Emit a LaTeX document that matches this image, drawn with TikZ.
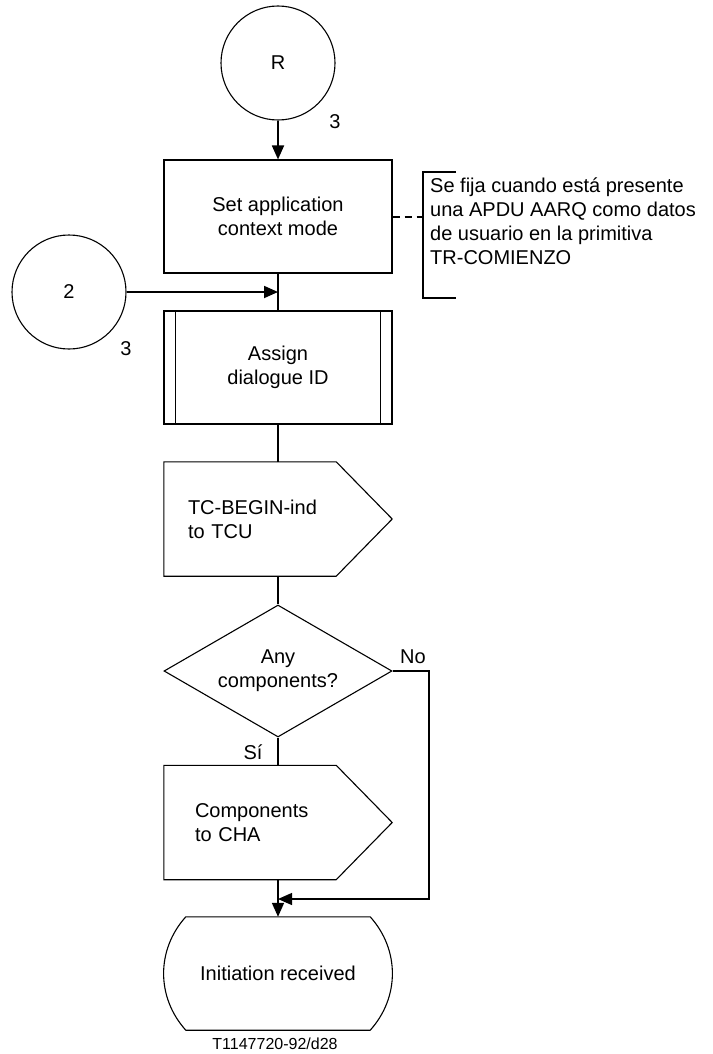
\documentclass[tikz,border=0pt]{standalone}
\usepackage{fontspec}
\setmainfont{Liberation Sans}
\usepackage{tikz}
\usetikzlibrary{calc,arrows.meta,shapes.geometric}
\tikzset{
  shp/.style={draw=black, line width=1.1pt},
  flow/.style={draw=black, line width=1.8pt},
  thinflow/.style={draw=black, line width=1.3pt},
  arr/.style={-{Triangle[length=14pt,width=12pt]}},
  brk/.style={draw=black, line width=2pt},
  txt/.style={font=\fontsize{20}{24}\selectfont},
  conn/.style={shp, txt, circle, minimum size=114pt, inner sep=0pt},
  box/.style={shp, txt, rectangle, minimum width=228pt, minimum height=113pt, align=center},
  sendbox/.style={txt, rectangle, minimum width=228pt, minimum height=114pt, inner sep=0pt, align=left},
  decide/.style={shp, txt, diamond, aspect=1.73, minimum width=228pt, minimum height=132pt, inner sep=0pt, align=center},
  term/.style={txt, rectangle, minimum width=184pt, minimum height=113pt},
  lbl/.style={txt, inner sep=0pt},
  note/.style={txt, inner sep=0pt, align=left},
  foot/.style={font=\fontsize{16}{19}\selectfont, inner sep=0pt}
}
\begin{document}
\begin{tikzpicture}[x=1pt,y=-1pt]
  \useasboundingbox (0,0) rectangle (712,1054);

  \node[conn] (R) at (278,63) {R};
  \node[lbl] (lblR) at (335,122) {3};
  \node[box] (ctx) at (278,216.5) {Set application\\context mode};

  \node[conn] (two) at (69,292) {2};
  \node[lbl] (lbl2) at (126,349) {3};
  \node[box] (asg) at (278,367.5) {Assign\\dialogue ID};
  \draw[shp] ($(asg.north west)+(12,0)$) -- ($(asg.south west)+(12,0)$);
  \draw[shp] ($(asg.north east)+(-12,0)$) -- ($(asg.south east)+(-12,0)$);

  % comment bracket
  \coordinate (brtop) at (423,172);
  \coordinate (brbot) at (423,298);
  \draw[brk] ($(brtop)+(33,0)$) -- (brtop) -- (brbot) -- ($(brbot)+(33,0)$);
  \draw[brk, dash pattern=on 7pt off 5pt] (ctx.east) -- (ctx.east -| brtop);
  \node[note, anchor=west] (cmt) at (430,221) {Se fija cuando está presente\\una APDU AARQ como datos\\de usuario en la primitiva\\TR-COMIENZO};

  \node[sendbox, text width=180pt] (tcb) at (278,519) {TC-BEGIN-ind\\to TCU};
  \node[decide] (any) at (278,671) {Any\\components?};
  \node[sendbox, text width=166pt] (cha) at (278,822.5) {Components\\to CHA};
  \foreach \s in {tcb,cha}
    \draw[shp] (\s.north west) -- ($(\s.north east)+(-56,0)$) -- (\s.east)
      -- ($(\s.south east)+(-56,0)$) -- (\s.south west) -- cycle;

  \node[term] (init) at (278,973.5) {Initiation received};
  \draw[shp] (init.north west) -- (init.north east) to[bend left=42] (init.south east)
    -- (init.south west) to[bend left=42] (init.north west) -- cycle;

  \node[lbl] (no) at (413,657) {No};
  \node[lbl] (si) at (253,752) {Sí};
  \node[foot] (fig) at (275,1044) {T1147720-92/d28};

  % connectors
  \draw[flow, arr] (R.south) -- (ctx.north);
  \draw[flow] (ctx.south) -- (asg.north);
  \draw[flow, arr] (two.east) -- (two.east -| ctx.south);
  \draw[flow] (asg.south) -- (tcb.north);
  \draw[flow] (tcb.south) -- (any.north);
  \draw[flow] (any.south) -- (cha.north);
  \draw[flow, arr] (cha.south) -- (init.north);
  \coordinate (nobend) at (429,899);
  \draw[thinflow, arr] (any.east) -| (nobend) -- (nobend -| init.north);
\end{tikzpicture}
\end{document}
